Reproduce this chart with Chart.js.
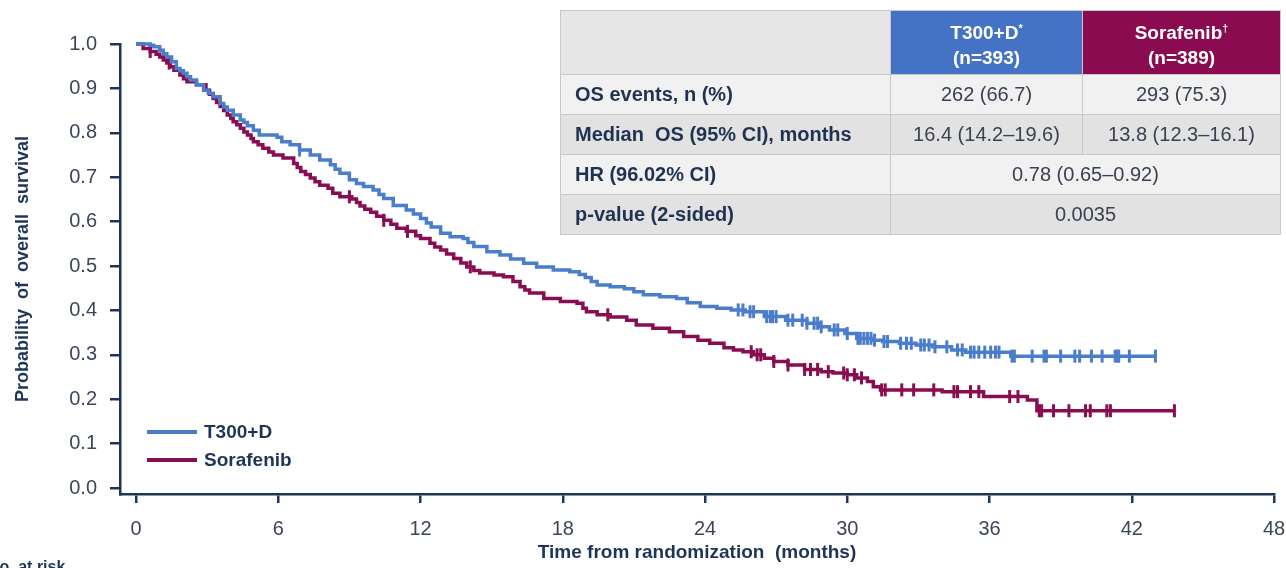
<!DOCTYPE html>
<html>
<head>
<meta charset="utf-8">
<title>Overall survival</title>
<script src="https://cdn.jsdelivr.net/npm/chart.js@4.4.1/dist/chart.umd.min.js"></script>
<style>
  html, body { margin: 0; padding: 0; background: #fff; }
  #wrap { position: relative; width: 1286px; height: 568px; overflow: hidden; font-family: "Liberation Sans", Arial, sans-serif; }
  #osChart { position: absolute; left: 0; top: 0; }
  #summary { position: absolute; left: 560px; top: 10px; width: 721px; height: 225px; border-collapse: collapse; font-size: 20px; }
  #summary td { border: 1px solid #c9c9c9; padding: 0; }
  #summary tr.head td { height: 63px; }
  #summary tr.row td { height: 39px; }
  #summary td.lbl { text-align: left; padding-left: 14px; font-weight: bold; color: #1f3252; width: 315px; }
  #summary td.val { text-align: center; color: #3a4150; }
  #summary td.blue { background: #4472c4; color: #fff; font-weight: bold; text-align: center; line-height: 25px; width: 191px; font-size: 19px; }
  #summary td.maroon { background: #8a0b4f; color: #fff; font-weight: bold; text-align: center; line-height: 25px; font-size: 19px; }
  #summary sup { font-size: 11px; vertical-align: 7px; }
  #summary tr.light td.lbl, #summary tr.light td.val { background: #f1f1f1; }
  #summary tr.dark td.lbl, #summary tr.dark td.val { background: #e2e2e2; }
  #summary td.blank { background: #e6e6e6; }
</style>
</head>
<body>
<div id="wrap">
  <canvas id="osChart" width="1286" height="568"></canvas>
  <table id="summary"></table>
</div>
<script>
// axis ticks
const xTicks = [0, 6, 12, 18, 24, 30, 36, 42, 48];
const yTicks = [0, 0.1, 0.2, 0.3, 0.4, 0.5, 0.6, 0.7, 0.8, 0.9, 1.0];

// T300+D arm: month of each step and survival after it
const t300Months = [0, 0.6, 0.75, 1.0, 1.15, 1.3, 1.5, 1.7, 1.85, 2.0, 2.15, 2.3, 2.55, 2.85, 3.05, 3.25, 3.55, 3.7, 3.85, 4.1,
  4.4, 4.55, 4.7, 4.95, 5.2, 5.95, 6.15, 6.5, 6.9, 7.35, 7.75, 8.2, 8.4, 8.6, 9.0, 9.3, 9.6, 10.0, 10.25, 10.45,
  10.85, 11.4, 11.7, 12.0, 12.25, 12.45, 12.85, 13.25, 13.8, 14.0, 14.25, 14.8, 15.35, 15.8, 16.35, 16.9, 17.6, 18.3, 18.7, 18.95,
  19.2, 19.45, 20.0, 20.6, 21.0, 21.4, 22.1, 22.8, 23.25, 23.8, 24.5, 25.1, 25.7, 26.5, 27.4, 28.3, 28.8, 29.25, 29.9, 30.4,
  31.05, 31.5, 32.2, 32.9, 33.6, 34.4, 35.0, 36.9, 43.0];
const t300Survival = [1.0, 0.997, 0.994, 0.986, 0.978, 0.971, 0.96, 0.945, 0.94, 0.934, 0.926, 0.919, 0.908, 0.896, 0.889, 0.881, 0.866, 0.858, 0.851, 0.84,
  0.829, 0.823, 0.816, 0.806, 0.795, 0.79, 0.78, 0.773, 0.761, 0.75, 0.739, 0.728, 0.718, 0.709, 0.694, 0.686, 0.679, 0.671, 0.661, 0.652,
  0.636, 0.626, 0.617, 0.607, 0.597, 0.588, 0.574, 0.566, 0.562, 0.553, 0.544, 0.532, 0.525, 0.516, 0.506, 0.498, 0.491, 0.487, 0.481, 0.474,
  0.465, 0.457, 0.453, 0.449, 0.442, 0.435, 0.431, 0.427, 0.417, 0.409, 0.405, 0.401, 0.397, 0.386, 0.378, 0.371, 0.363, 0.356, 0.348, 0.337,
  0.333, 0.33, 0.326, 0.322, 0.318, 0.311, 0.306, 0.297, 0.297];
const t300Censored = [6.9, 25.4, 25.6, 25.9, 26.05, 26.6, 26.75, 26.85, 27.0, 27.5, 27.7, 28.1, 28.3, 28.6, 28.75, 28.9, 29.45, 29.6, 30.0, 30.45,
  30.55, 30.7, 30.85, 31.0, 31.15, 31.55, 31.7, 32.25, 32.5, 32.7, 33.1, 33.25, 33.45, 33.7, 34.2, 34.65, 34.85, 35.2, 35.35, 35.55,
  35.8, 36.05, 36.25, 36.4, 36.95, 37.05, 37.8, 38.3, 38.4, 39.0, 39.6, 39.8, 40.3, 40.75, 41.3, 41.4, 41.45, 41.9, 43.0];

// Sorafenib arm
const sorafenibMonths = [0, 0.3, 0.6, 0.85, 1.0, 1.15, 1.3, 1.45, 1.6, 1.85, 2.0, 2.15, 2.55, 2.95, 3.1, 3.25, 3.4, 3.55, 3.7, 3.85,
  4.0, 4.1, 4.25, 4.4, 4.55, 4.7, 4.85, 4.95, 5.15, 5.35, 5.6, 5.8, 6.2, 6.65, 6.8, 6.95, 7.15, 7.35, 7.55, 7.75,
  8.1, 8.3, 8.6, 9.1, 9.3, 9.45, 9.65, 9.9, 10.15, 10.45, 10.75, 11.0, 11.4, 11.8, 12.0, 12.4, 12.6, 12.85, 13.1, 13.4,
  13.7, 13.95, 14.25, 14.5, 15.1, 15.5, 15.9, 16.2, 16.4, 16.6, 17.2, 17.9, 18.6, 18.85, 19.0, 19.45, 20.0, 20.7, 21.1, 21.8,
  22.5, 23.1, 23.7, 24.2, 24.8, 25.2, 25.6, 26.05, 26.5, 26.9, 27.5, 28.2, 28.9, 29.4, 30.0, 30.4, 30.85, 31.1, 31.4, 34.0,
  35.75, 37.6, 38.0, 43.8];
const sorafenibSurvival = [1.0, 0.99, 0.983, 0.977, 0.971, 0.964, 0.957, 0.949, 0.941, 0.93, 0.922, 0.915, 0.908, 0.896, 0.887, 0.877, 0.868, 0.859, 0.85, 0.84,
  0.832, 0.825, 0.818, 0.81, 0.802, 0.795, 0.787, 0.78, 0.773, 0.765, 0.757, 0.75, 0.743, 0.731, 0.722, 0.713, 0.706, 0.698, 0.69, 0.682,
  0.675, 0.664, 0.656, 0.651, 0.643, 0.635, 0.628, 0.621, 0.612, 0.603, 0.594, 0.585, 0.578, 0.568, 0.562, 0.551, 0.543, 0.536, 0.527, 0.517,
  0.507, 0.498, 0.49, 0.484, 0.48, 0.476, 0.465, 0.453, 0.446, 0.439, 0.427, 0.42, 0.416, 0.405, 0.397, 0.39, 0.385, 0.378, 0.367, 0.36,
  0.352, 0.341, 0.333, 0.326, 0.316, 0.311, 0.307, 0.3, 0.292, 0.285, 0.277, 0.267, 0.262, 0.259, 0.255, 0.248, 0.24, 0.228, 0.221, 0.217,
  0.206, 0.198, 0.174, 0.174];
const sorafenibCensored = [0.6, 1.4, 9.0, 10.45, 11.45, 14.1, 19.9, 25.95, 26.2, 26.35, 26.9, 27.5, 28.2, 28.45, 28.75, 29.2, 29.85, 30.0, 30.3, 30.6,
  31.45, 31.6, 32.3, 32.8, 33.65, 34.5, 34.65, 35.2, 35.55, 36.85, 37.2, 38.1, 38.2, 38.7, 39.35, 40.05, 40.25, 40.95, 41.1, 43.8];

// summary table
const armNames = ["T300+D", "Sorafenib"];
const armMarks = ["*", "†"];
const armSizes = [393, 389];
const statLabels = ["OS events, n (%)", "Median  OS (95% CI), months", "HR (96.02% CI)", "p-value (2-sided)"];
const t300Stats = ["262 (66.7)", "16.4 (14.2–19.6)"];
const sorafenibStats = ["293 (75.3)", "13.8 (12.3–16.1)"];
const sharedStats = ["0.78 (0.65–0.92)", "0.0035"];

const blue = "#4a7dcb";
const maroon = "#8a0d52";
const navy = "#1f3558";

function survivalAt(months, surv, t) {
    let s = surv[0];
    for (let i = 0; i < months.length; i++) {
        if (months[i] <= t) s = surv[i];
        else break;
    }
    return s;
}

function curve(months, surv) {
    return months.map((m, i) => ({ x: m, y: surv[i] }));
}

function censorPoints(times, months, surv) {
    return times.map(t => ({ x: t, y: survivalAt(months, surv, t) }));
}

function buildTable() {
    const table = document.getElementById("summary");
    let html = '<tr class="head"><td class="blank"></td>';
    html += `<td class="blue">${armNames[0]}<sup>${armMarks[0]}</sup><br>(n=${armSizes[0]})</td>`;
    html += `<td class="maroon">${armNames[1]}<sup>${armMarks[1]}</sup><br>(n=${armSizes[1]})</td></tr>`;
    statLabels.forEach((label, i) => {
        const shade = i % 2 === 0 ? "light" : "dark";
        html += `<tr class="row ${shade}"><td class="lbl">${label.replace(/  /g, " &nbsp;")}</td>`;
        if (i < t300Stats.length) {
            html += `<td class="val">${t300Stats[i]}</td><td class="val">${sorafenibStats[i]}</td>`;
        } else {
            html += `<td class="val" colspan="2">${sharedStats[i - t300Stats.length]}</td>`;
        }
        html += "</tr>";
    });
    table.innerHTML = html;
}

// legend lines inside the plot, plus the cut-off risk-table heading
const legendPlugin = {
    id: "kmLegend",
    afterDraw(chart) {
        const { ctx, chartArea } = chart;
        const lines = chart.data.datasets.filter(d => d.legendEntry);
        ctx.save();
        lines.forEach((d, i) => {
            const y = chartArea.bottom - 62 + i * 28;
            ctx.strokeStyle = d.borderColor;
            ctx.lineWidth = 4;
            ctx.beginPath();
            ctx.moveTo(chartArea.left + 27, y);
            ctx.lineTo(chartArea.left + 77, y);
            ctx.stroke();
            ctx.fillStyle = navy;
            ctx.font = "bold 19px 'Liberation Sans', Arial, sans-serif";
            ctx.textBaseline = "middle";
            ctx.fillText(d.label, chartArea.left + 84, y + 1);
        });
        ctx.fillStyle = navy;
        ctx.font = "bold 16px 'Liberation Sans', Arial, sans-serif";
        ctx.textBaseline = "alphabetic";
        ctx.fillText("No. at risk", -12, 572);
        ctx.restore();
    }
};

function renderSurvivalChart() {
    new Chart(document.getElementById("osChart"), {
        type: "line",
        data: {
            datasets: [
                {
                    label: armNames[0],
                    legendEntry: true,
                    data: curve(t300Months, t300Survival),
                    stepped: "before",
                    borderColor: blue,
                    borderWidth: 3.5,
                    pointRadius: 0,
                    clip: false,
                    order: 2
                },
                {
                    label: armNames[1],
                    legendEntry: true,
                    data: curve(sorafenibMonths, sorafenibSurvival),
                    stepped: "before",
                    borderColor: maroon,
                    borderWidth: 3.5,
                    pointRadius: 0,
                    clip: false,
                    order: 4
                },
                {
                    label: "T300+D censored",
                    type: "scatter",
                    data: censorPoints(t300Censored, t300Months, t300Survival),
                    pointStyle: "line",
                    rotation: 90,
                    pointRadius: 6.5,
                    borderColor: blue,
                    pointBorderWidth: 3,
                    showLine: false,
                    clip: false,
                    order: 1
                },
                {
                    label: "Sorafenib censored",
                    type: "scatter",
                    data: censorPoints(sorafenibCensored, sorafenibMonths, sorafenibSurvival),
                    pointStyle: "line",
                    rotation: 90,
                    pointRadius: 6.5,
                    borderColor: maroon,
                    pointBorderWidth: 3,
                    showLine: false,
                    clip: false,
                    order: 3
                }
            ]
        },
        options: {
            responsive: false,
            animation: false,
            layout: { padding: { top: 44, right: 12, left: 0, bottom: 0 } },
            plugins: {
                legend: { display: false },
                tooltip: { enabled: false }
            },
            scales: {
                x: {
                    type: "linear",
                    min: -0.675,
                    max: 48,
                    afterBuildTicks: scale => { scale.ticks = xTicks.map(v => ({ value: v })); },
                    afterFit: scale => {
                        scale.height = 74;
                        scale.paddingLeft = 0;
                        scale.paddingRight = 0;
                    },
                    border: { color: navy, width: 2.5 },
                    grid: { drawOnChartArea: false, drawTicks: true, tickLength: 9, color: navy, lineWidth: 2.5 },
                    ticks: {
                        padding: 14,
                        color: "#3b4658",
                        font: { family: "'Liberation Sans', Arial, sans-serif", size: 20 },
                        callback: v => String(v)
                    },
                    title: {
                        display: true,
                        text: "Time from randomization  (months)",
                        color: navy,
                        padding: { top: 0, bottom: 4 },
                        font: { family: "'Liberation Sans', Arial, sans-serif", size: 19, weight: "bold" }
                    }
                },
                y: {
                    min: -0.0135,
                    max: 1.0,
                    afterBuildTicks: scale => { scale.ticks = yTicks.map(v => ({ value: v })); },
                    afterFit: scale => { scale.width = 120; },
                    border: { color: navy, width: 2.5 },
                    grid: { drawOnChartArea: false, drawTicks: true, tickLength: 10, color: navy, lineWidth: 2.5 },
                    ticks: {
                        padding: 13,
                        color: "#3b4658",
                        font: { family: "'Liberation Sans', Arial, sans-serif", size: 20 },
                        callback: v => v.toFixed(1)
                    },
                    title: {
                        display: true,
                        text: "Probability  of  overall  survival",
                        color: navy,
                        padding: { top: 12, bottom: 0 },
                        font: { family: "'Liberation Sans', Arial, sans-serif", size: 18, weight: "bold" }
                    }
                }
            }
        },
        plugins: [legendPlugin]
    });
}

document.addEventListener("DOMContentLoaded", () => {
    buildTable();
    renderSurvivalChart();
});
</script>
</body>
</html>
